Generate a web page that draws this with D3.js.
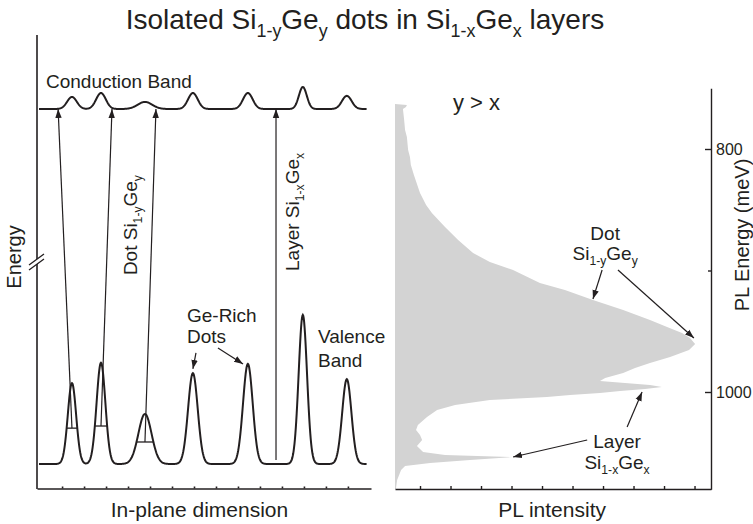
<!DOCTYPE html>
<html>
<head>
<meta charset="utf-8">
<script src="https://cdn.jsdelivr.net/npm/d3@7"></script>
<style>
  body { margin: 0; background: #fff; }
  text { font-family: "Liberation Sans", Arial, Helvetica, sans-serif; fill: #231f20; }
</style>
</head>
<body>
<div id="chart"></div>
<script>
// ---- data ----
// left panel: in-plane position of each dot and band profile (arbitrary energy units)
const dotPositions = [1.45, 2.77, 4.77, 6.95, 9.45, 11.95, 13.95];
const valenceHeights = [22.8, 28.5, 14.1, 25.6, 28.2, 42, 23.9];
const valenceWidths = [0.19, 0.2, 0.3, 0.22, 0.22, 0.19, 0.21];
const conductionHeights = [3.4, 4.5, 2.0, 4.5, 4.5, 6.2, 3.7];
const conductionWidths = [0.22, 0.22, 0.33, 0.22, 0.22, 0.18, 0.22];
const barLevels = [10.1, 10.7, 6.2];          // level of the bars on the first 3 dots
const transitionTops = [0.82, 3.27, 5.27];    // where the dot arrows hit the conduction band
const layerTransition = 10.73;
const planeTicks = [1, 2, 3, 4, 5, 6, 7, 8, 9, 10, 11, 12, 13, 14];

// right panel: PL spectrum, energy (meV) vs intensity (a.u.)
const plEnergy = [763.0, 763.8, 765.4, 767.1, 776.1, 784.4, 790.1, 800.8, 806.6, 813.2, 821.4, 836.2, 846.1, 852.7, 864.2, 874.9, 885.6, 893.0, 899.6, 910.3, 916.0, 924.3, 932.5, 940.7, 946.5, 951.4, 955.6, 960.5, 965.4, 971.2, 976.1, 980.2, 984.4, 988.5, 990.9, 992.6, 994.2, 995.9, 997.5, 999.2, 1000.8, 1002.5, 1004.1, 1006.6, 1010.7, 1014.8, 1020.6, 1027.2, 1031.3, 1035.4, 1039.5, 1044.4, 1049.4, 1051.9, 1053.5, 1056.0, 1058.4, 1060.9, 1064.2, 1072.4, 1079.8];
const plIntensity = [0, 3.9, 3.6, 2.6, 3.0, 3.3, 3.9, 4.3, 4.9, 5.2, 6.2, 8.2, 10.2, 12.1, 16.4, 20.7, 25.6, 31.1, 38.7, 47.5, 55.7, 64.9, 74.8, 83.6, 89.2, 94.1, 96.7, 98.4, 96.4, 90.2, 83.6, 78.7, 74.8, 68.9, 67.2, 75.4, 83.6, 87.5, 82.0, 73.8, 67.2, 57.4, 49.8, 31.1, 19.7, 13.8, 10.5, 7.5, 6.9, 8.2, 8.9, 7.2, 9.2, 16.4, 38.4, 24.6, 11.5, 3.3, 2.0, 0.7, 0.3];
const energyTicks = [800, 900, 1000];
const energyLabels = ["800", "", "1000"];
const intensityTicks = [8.2, 18.2, 28.2, 38.2, 48.2, 58.2, 68.2, 78.2, 88.2, 98.2];

const ink = "#231f20";
const width = 753, height = 524;

const svg = d3.select("#chart").append("svg")
  .attr("width", width)
  .attr("height", height);

svg.append("defs").append("marker")
  .attr("id", "head")
  .attr("markerUnits", "userSpaceOnUse")
  .attr("viewBox", "0 -4 9 8")
  .attr("refX", 9).attr("refY", 0)
  .attr("markerWidth", 9).attr("markerHeight", 8)
  .attr("orient", "auto")
  .append("path")
  .attr("d", "M0,-3.2L9,0L0,3.2Z")
  .attr("fill", ink);

// text with subscripts: parts = [[string, isSub], ...]
function rich(sel, parts, size) {
  parts.forEach(([s, sub], i) => {
    const prevSub = i > 0 && parts[i - 1][1];
    sel.append("tspan")
      .attr("font-size", sub ? size * 0.64 : size)
      .attr("dy", sub && !prevSub ? size * 0.27 : (!sub && prevSub ? -size * 0.27 : 0))
      .text(s);
  });
  return sel;
}

// title
rich(svg.append("text")
  .attr("x", 365).attr("y", 29)
  .attr("text-anchor", "middle"),
  [["Isolated Si", 0], ["1-y", 1], ["Ge", 0], ["y", 1], [" dots in Si", 0], ["1-x", 1], ["Ge", 0], ["x", 1], [" layers", 0]], 28);

// ================= left panel =================
const xL = d3.scaleLinear().domain([-0.14, 15.05]).range([37, 371]);
const yL = d3.scaleLinear().domain([0, 100]).range([464, 109]);

function band(base, heights, widths) {
  return d3.range(-0.05, 14.86, 0.02).map(u => [u,
    base + d3.sum(dotPositions, (c, i) => heights[i] * Math.exp(-((u - c) ** 2) / (2 * widths[i] ** 2)))]);
}

const bandLine = d3.line().x(d => xL(d[0])).y(d => yL(d[1]));

const left = svg.append("g");

left.append("path")
  .attr("d", bandLine(band(100, conductionHeights, conductionWidths)))
  .attr("fill", "none").attr("stroke", ink).attr("stroke-width", 2);

left.append("path")
  .attr("d", bandLine(band(0, valenceHeights, valenceWidths)))
  .attr("fill", "none").attr("stroke", ink).attr("stroke-width", 2);

// bars across the first three dots
const bars = barLevels.map((lv, i) => {
  const hw = valenceWidths[i] * Math.sqrt(2 * Math.log(valenceHeights[i] / lv));
  return { c: dotPositions[i], hw: hw, lv: lv, top: transitionTops[i] };
});

left.selectAll(".bar").data(bars).join("line")
  .attr("class", "bar")
  .attr("x1", d => xL(d.c - d.hw)).attr("x2", d => xL(d.c + d.hw))
  .attr("y1", d => yL(d.lv)).attr("y2", d => yL(d.lv))
  .attr("stroke", ink).attr("stroke-width", 1.3);

left.selectAll(".trans").data(bars).join("line")
  .attr("class", "trans")
  .attr("x1", d => xL(d.c)).attr("y1", d => yL(d.lv))
  .attr("x2", d => xL(d.top)).attr("y2", yL(100))
  .attr("stroke", ink).attr("stroke-width", 1.2)
  .attr("marker-end", "url(#head)");

left.append("line")
  .attr("x1", xL(layerTransition)).attr("y1", yL(1.1))
  .attr("x2", xL(layerTransition)).attr("y2", yL(100))
  .attr("stroke", ink).attr("stroke-width", 1.2)
  .attr("marker-end", "url(#head)");

// axes
left.append("g")
  .attr("transform", "translate(0,488.5)")
  .call(d3.axisTop(xL).tickValues(planeTicks).tickSize(2).tickSizeOuter(0).tickFormat(""))
  .call(g => g.selectAll("path,line").attr("stroke", ink).attr("stroke-width", 1.6));

left.append("line")
  .attr("x1", 37).attr("x2", 37).attr("y1", 35).attr("y2", 489)
  .attr("stroke", ink).attr("stroke-width", 1.6);

// axis break
left.append("path")
  .attr("d", "M29,265L44,254L44,259L29,270Z")
  .attr("fill", "#fff");
left.append("path")
  .attr("d", "M29,265L44,254M29,270L44,259")
  .attr("stroke", ink).attr("stroke-width", 1.3).attr("fill", "none");

// labels
left.append("text")
  .attr("x", xL(0.27)).attr("y", yL(105.9))
  .attr("font-size", 19)
  .text("Conduction Band");

rich(left.append("text")
  .attr("transform", `translate(${xL(4.41)},${yL(67.3)}) rotate(-90)`)
  .attr("text-anchor", "middle"),
  [["Dot Si", 0], ["1-y", 1], ["Ge", 0], ["y", 1]], 19);

rich(left.append("text")
  .attr("transform", `translate(${xL(11.77)},${yL(71)}) rotate(-90)`)
  .attr("text-anchor", "middle"),
  [["Layer Si", 0], ["1-x", 1], ["Ge", 0], ["x", 1]], 19);

left.append("text")
  .attr("x", xL(6.68)).attr("y", yL(40)).attr("font-size", 19)
  .text("Ge-Rich");
left.append("text")
  .attr("x", xL(6.68)).attr("y", yL(34.1)).attr("font-size", 19)
  .text("Dots");

const geArrows = [
  { from: [7.09, 31.3], to: [6.95, 26.8] },
  { from: [8.09, 32.7], to: [9.23, 28.2] }
];
left.selectAll(".ge").data(geArrows).join("line")
  .attr("class", "ge")
  .attr("x1", d => xL(d.from[0])).attr("y1", d => yL(d.from[1]))
  .attr("x2", d => xL(d.to[0])).attr("y2", d => yL(d.to[1]))
  .attr("stroke", ink).attr("stroke-width", 1.2)
  .attr("marker-end", "url(#head)");

left.append("text")
  .attr("x", xL(12.64)).attr("y", yL(34.1)).attr("font-size", 19)
  .text("Valence");
left.append("text")
  .attr("x", xL(12.64)).attr("y", yL(27.3)).attr("font-size", 19)
  .text("Band");

left.append("text")
  .attr("transform", "translate(21,257) rotate(-90)")
  .attr("text-anchor", "middle").attr("font-size", 20)
  .text("Energy");

left.append("text")
  .attr("x", xL(7.25)).attr("y", 517)
  .attr("text-anchor", "middle").attr("font-size", 21)
  .text("In-plane dimension");

// ================= right panel =================
const xR = d3.scaleLinear().domain([0, 103.6]).range([395, 711]);
const yR = d3.scaleLinear().domain([750, 1080]).range([88.25, 489.2]);

const spectrum = plEnergy.map((e, i) => ({ e: e, i: plIntensity[i] }));

const right = svg.append("g");

right.append("path")
  .datum(spectrum)
  .attr("d", d3.area()
    .y(d => yR(d.e))
    .x0(xR(0))
    .x1(d => xR(d.i)))
  .attr("fill", "#d3d3d3");

right.append("g")
  .attr("transform", "translate(0,489)")
  .call(d3.axisTop(xR).tickValues(intensityTicks).tickSize(3).tickSizeOuter(0).tickFormat(""))
  .call(g => g.selectAll("path,line").attr("stroke", ink).attr("stroke-width", 1.4));

right.append("g")
  .attr("transform", `translate(${xR.range()[1]},0)`)
  .call(d3.axisRight(yR).tickValues(energyTicks).tickSizeInner(-6).tickSizeOuter(0).tickPadding(5)
    .tickFormat((d, i) => energyLabels[i]))
  .call(g => g.selectAll("path,line").attr("stroke", ink).attr("stroke-width", 1.4))
  .call(g => g.selectAll(".tick").filter(d => d === 900).select("line").attr("x2", -3))
  .call(g => g.selectAll("text").attr("font-size", 16).attr("fill", ink)
    .attr("font-family", "Liberation Sans, Arial, sans-serif"));

right.append("text")
  .attr("transform", "translate(749,235) rotate(-90)")
  .attr("text-anchor", "middle").attr("font-size", 20)
  .text("PL Energy (meV)");

right.append("text")
  .attr("x", xR(51.5)).attr("y", 517)
  .attr("text-anchor", "middle").attr("font-size", 21)
  .text("PL intensity");

right.append("text")
  .attr("x", xR(19)).attr("y", yR(767.9)).attr("font-size", 22)
  .text("y > x");

right.append("text")
  .attr("x", xR(68.9)).attr("y", yR(874.9))
  .attr("text-anchor", "middle").attr("font-size", 19)
  .text("Dot");
rich(right.append("text")
  .attr("x", xR(68.9)).attr("y", yR(891.4))
  .attr("text-anchor", "middle"),
  [["Si", 0], ["1-y", 1], ["Ge", 0], ["y", 1]], 19);

right.append("text")
  .attr("x", xR(72.8)).attr("y", yR(1046.1))
  .attr("text-anchor", "middle").attr("font-size", 19)
  .text("Layer");
rich(right.append("text")
  .attr("x", xR(72.8)).attr("y", yR(1063.4))
  .attr("text-anchor", "middle"),
  [["Si", 0], ["1-x", 1], ["Ge", 0], ["x", 1]], 19);

const plArrows = [
  { from: [67.9, 899.6], to: [64.9, 923.5] },
  { from: [73.1, 899.6], to: [98.0, 955.6] },
  { from: [76.1, 1028.8], to: [81.0, 1000.0] },
  { from: [63.0, 1039.5], to: [38.7, 1053.5] }
];
right.selectAll(".pla").data(plArrows).join("line")
  .attr("class", "pla")
  .attr("x1", d => xR(d.from[0])).attr("y1", d => yR(d.from[1]))
  .attr("x2", d => xR(d.to[0])).attr("y2", d => yR(d.to[1]))
  .attr("stroke", ink).attr("stroke-width", 1.2)
  .attr("marker-end", "url(#head)");
</script>
</body>
</html>
